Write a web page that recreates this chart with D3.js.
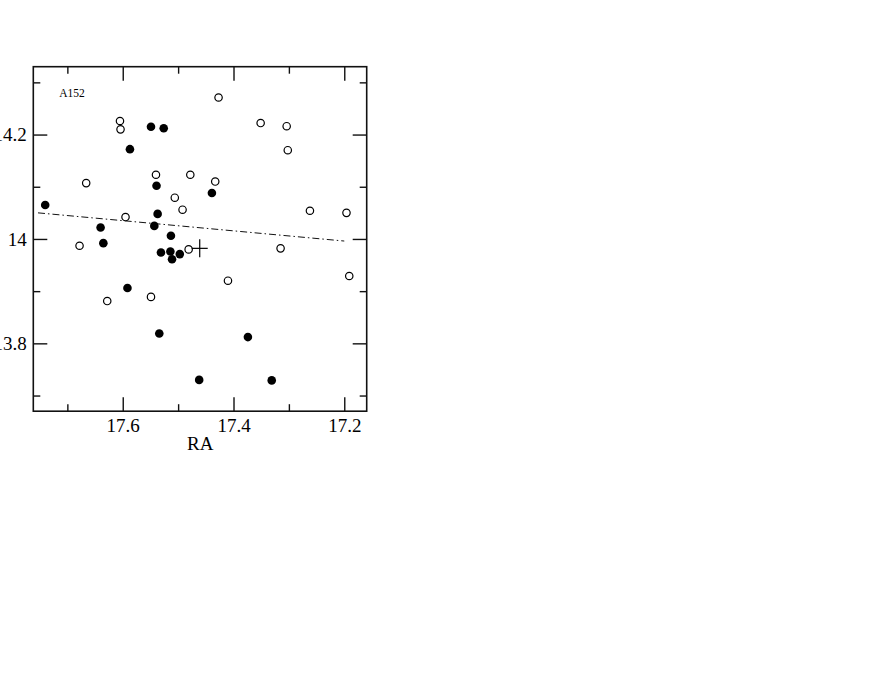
<!DOCTYPE html>
<html>
<head>
<meta charset="utf-8">
<script src="https://cdn.jsdelivr.net/npm/d3@7"></script>
<style>
  body { margin: 0; background: #fff; }
  svg text { font-family: "Liberation Serif", "Times New Roman", serif; fill: #000; }
</style>
</head>
<body>
<div id="my_dataviz"></div>
<script>
// galaxies of A152 (RA, Dec)
const filledRA  = [17.740, 17.549, 17.526, 17.587, 17.539, 17.537, 17.543, 17.640, 17.635, 17.513,
                   17.531, 17.514, 17.511, 17.497, 17.5915, 17.534, 17.462, 17.439, 17.374, 17.331];
const filledDec = [14.065, 14.215, 14.212, 14.172, 14.102, 14.048, 14.025, 14.022, 13.992, 14.006,
                   13.974, 13.976, 13.961, 13.971, 13.906, 13.819, 13.730, 14.088, 13.812, 13.729];

const openRA  = [17.605, 17.604, 17.666, 17.595, 17.678, 17.540, 17.478, 17.506, 17.492, 17.481, 17.427,
                 17.351, 17.304, 17.302, 17.433, 17.262, 17.196, 17.315, 17.628, 17.549, 17.410, 17.191];
const openDec = [14.226, 14.210, 14.107, 14.042, 13.987, 14.123, 14.123, 14.079, 14.056, 13.980, 14.271,
                 14.222, 14.216, 14.170, 14.110, 14.054, 14.050, 13.982, 13.881, 13.889, 13.920, 13.929];

// centre (cross) and fitted line
const centerRA = [17.461], centerDec = [13.982];
const fitRA = [17.753, 17.2], fitDec = [14.050, 13.996];

const xTicks = [17.6, 17.4, 17.2], xMinor = [17.7, 17.5, 17.3];
const yTicks = [13.8, 14.0, 14.2], yMinor = [13.7, 13.9, 14.1, 14.3];
const label = "A152";

// set the dimensions and margins of the graph
const margin = {top: 66.7, right: 505.3, bottom: 262.8, left: 33.3},
    width = 872 - margin.left - margin.right,
    height = 674 - margin.top - margin.bottom;

const svg = d3.select("#my_dataviz")
  .append("svg")
    .attr("width", 872)
    .attr("height", 674)
  .append("g")
    .attr("transform", `translate(${margin.left},${margin.top})`);

// RA runs backwards
const x = d3.scaleLinear().domain([17.7615, 17.1595]).range([0, width]);
const y = d3.scaleLinear().domain([13.670, 14.330]).range([height, 0]);

const fmt = d => String(+d.toFixed(1));
const major = 14, minor = 7;

// ticks pointing inside on all four sides
function ticks(axisFn, vals, len, labels) {
  return axisFn.tickValues(vals).tickSizeInner(-len).tickSizeOuter(0)
    .tickFormat(labels ? fmt : "").tickPadding(labels ? 20 : 0);
}

const xAxis = svg.append("g").attr("transform", `translate(0,${height})`)
  .call(ticks(d3.axisBottom(x), xTicks, major, true));
svg.append("g").attr("transform", `translate(0,${height})`)
  .call(ticks(d3.axisBottom(x), xMinor, minor, false));
svg.append("g").call(ticks(d3.axisTop(x), xTicks, major, false));
svg.append("g").call(ticks(d3.axisTop(x), xMinor, minor, false));

const yAxis = svg.append("g").call(ticks(d3.axisLeft(y), yTicks, major, true));
svg.append("g").call(ticks(d3.axisLeft(y), yMinor, minor, false));
svg.append("g").attr("transform", `translate(${width},0)`)
  .call(ticks(d3.axisRight(y), yTicks, major, false));
svg.append("g").attr("transform", `translate(${width},0)`)
  .call(ticks(d3.axisRight(y), yMinor, minor, false));

svg.selectAll(".domain").remove();
svg.selectAll(".tick line").attr("stroke", "#111").attr("stroke-width", 1.4);
svg.selectAll(".tick text").style("font-size", "19px");
xAxis.selectAll(".tick text").attr("dy", "0").attr("y", 21);
yAxis.selectAll(".tick text").attr("x", -6.5).attr("dy", "0.33em");

// frame
svg.append("rect")
  .attr("width", width).attr("height", height)
  .attr("fill", "none").attr("stroke", "#111").attr("stroke-width", 1.6);

// axis title
svg.append("text")
  .attr("x", x(17.46)).attr("y", height + 39)
  .attr("text-anchor", "middle")
  .style("font-size", "19px")
  .text("RA");

svg.append("text")
  .attr("x", 26).attr("y", 30.8)
  .style("font-size", "11.5px")
  .text(label);

// dash-dot fit line
svg.append("path")
  .datum(d3.range(fitRA.length))
  .attr("d", d3.line().x(i => x(fitRA[i])).y(i => y(fitDec[i])))
  .attr("fill", "none").attr("stroke", "#111").attr("stroke-width", 1)
  .attr("stroke-dasharray", "7,3,1.5,3");

// open circles
svg.append("g").selectAll("circle")
  .data(d3.range(openRA.length)).enter().append("circle")
    .attr("cx", i => x(openRA[i])).attr("cy", i => y(openDec[i]))
    .attr("r", 3.7)
    .attr("fill", "#fff").attr("stroke", "#000").attr("stroke-width", 1.2);

// filled circles
svg.append("g").selectAll("circle")
  .data(d3.range(filledRA.length)).enter().append("circle")
    .attr("cx", i => x(filledRA[i])).attr("cy", i => y(filledDec[i]))
    .attr("r", 4.3)
    .attr("fill", "#000");

// centre cross
const cross = svg.append("g").selectAll("g")
  .data(d3.range(centerRA.length)).enter().append("g")
    .attr("transform", i => `translate(${x(centerRA[i])},${y(centerDec[i])})`);
cross.append("line").attr("x1", -8).attr("x2", 8).attr("stroke", "#000").attr("stroke-width", 1.2);
cross.append("line").attr("y1", -9).attr("y2", 9).attr("stroke", "#000").attr("stroke-width", 1.2);
</script>
</body>
</html>
